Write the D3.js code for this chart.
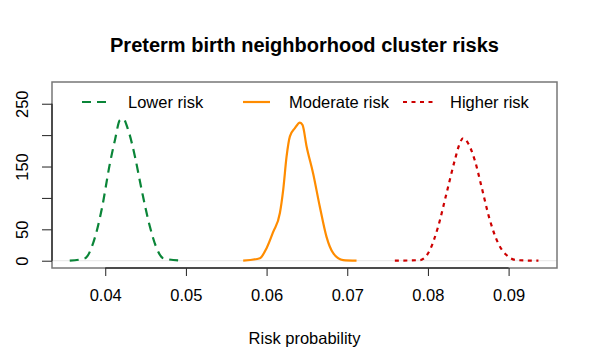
<!DOCTYPE html>
<html>
<head>
<meta charset="utf-8">
<script src="https://cdn.jsdelivr.net/npm/d3@7"></script>
<style>
  body { margin: 0; background: #fff; }
  text { font-family: "Liberation Sans", Arial, Helvetica, sans-serif; }
</style>
</head>
<body>
<svg width="600" height="350"></svg>
<script>
// density curves
var lowerX = [0.0356, 0.0375, 0.0385, 0.03955, 0.04058, 0.0412, 0.04182, 0.04223, 0.04285, 0.04368, 0.04451, 0.04554, 0.04637, 0.04719, 0.0495];
var lowerY = [0, 4, 28, 81, 155, 192, 224, 226, 208, 166, 113, 54, 20, 4, 0];

var moderateX = [0.0571, 0.05917, 0.06, 0.06082, 0.06165, 0.06206, 0.06248, 0.06289, 0.06351, 0.06413, 0.06446, 0.06496, 0.06577, 0.0666, 0.06743, 0.06826, 0.06949, 0.07115];
var moderateY = [0, 4, 20, 46, 76, 113, 166, 198, 211, 220, 216, 182, 139, 86, 38, 12, 1, 0];

var higherX = [0.0759, 0.079, 0.08024, 0.08126, 0.0823, 0.08333, 0.08395, 0.08436, 0.08498, 0.08581, 0.08664, 0.08767, 0.0887, 0.08974, 0.09098, 0.0937];
var higherY = [0, 1, 17, 54, 107, 160, 187, 195, 187, 160, 118, 65, 28, 9, 1, 0];

var seriesNames = ["Lower risk", "Moderate risk", "Higher risk"];
var xTicks = [0.04, 0.05, 0.06, 0.07, 0.08, 0.09];
var yTicks = [0, 50, 100, 150, 200, 250];
var yTickLabels = ["0", "50", "", "150", "", "250"];

var svg = d3.select("svg"),
  mLeft = 52, mRight = 557, mTop = 82, mBottom = 268;

var x = d3.scaleLinear().domain([0.0334, 0.0960]).range([mLeft, mRight]);
var y = d3.scaleLinear().domain([-11.6, 284.6]).range([mBottom, mTop]);

var colors = ["#0a8538", "#ff8c00", "#cd0000"];
var dashes = ["9,6", null, "4,4.5"];

var series = [
  d3.zip(lowerX, lowerY),
  d3.zip(moderateX, moderateY),
  d3.zip(higherX, higherY)
];

// title
svg.append("text")
  .attr("x", (mLeft + mRight) / 2)
  .attr("y", 52)
  .attr("text-anchor", "middle")
  .style("font-size", "20px")
  .style("font-weight", "bold")
  .text("Preterm birth neighborhood cluster risks");

// zero line
svg.append("line")
  .attr("x1", mLeft).attr("x2", mRight)
  .attr("y1", y(0)).attr("y2", y(0))
  .attr("stroke", "#e6e6e6").attr("stroke-width", 1);

// curves
var line = d3.line()
  .x(function (d) { return x(d[0]); })
  .y(function (d) { return y(d[1]); })
  .curve(d3.curveMonotoneX);

svg.selectAll("path.curve")
  .data(series)
  .enter().append("path")
  .attr("class", "curve")
  .attr("d", line)
  .attr("fill", "none")
  .attr("stroke", function (d, i) { return colors[i]; })
  .attr("stroke-width", 2.2)
  .attr("stroke-dasharray", function (d, i) { return dashes[i]; });

// box
svg.append("rect")
  .attr("x", mLeft).attr("y", mTop)
  .attr("width", mRight - mLeft).attr("height", mBottom - mTop)
  .attr("fill", "none")
  .attr("stroke", "#777")
  .attr("stroke-width", 1.5);

// x axis
var xAxis = d3.axisBottom(x)
  .tickValues(xTicks)
  .tickFormat(d3.format(".2f"))
  .tickSizeOuter(0)
  .tickSize(8)
  .tickPadding(13);

var gx = svg.append("g")
  .attr("transform", "translate(0," + mBottom + ")")
  .call(xAxis);
gx.select(".domain").remove();
gx.selectAll("line").attr("stroke", "#222");
gx.selectAll("text").style("font-size", "16.5px").attr("fill", "#000");

// y axis
var yAxis = d3.axisLeft(y)
  .tickValues(yTicks)
  .tickFormat(function (d, i) { return yTickLabels[i]; })
  .tickSizeOuter(0)
  .tickSize(10);

var gy = svg.append("g")
  .attr("transform", "translate(" + mLeft + ",0)")
  .call(yAxis);
gy.select(".domain").remove();
gy.selectAll("line").attr("stroke", "#222");
gy.selectAll("text")
  .style("font-size", "16.5px")
  .attr("fill", "#000")
  .attr("x", null).attr("dy", null)
  .attr("text-anchor", "middle")
  .attr("transform", "translate(-24,0) rotate(-90)");

// axis lines along the ticks (darker than box)
svg.append("line")
  .attr("x1", x(0.04)).attr("x2", x(0.09))
  .attr("y1", mBottom).attr("y2", mBottom)
  .attr("stroke", "#333").attr("stroke-width", 1.5);
svg.append("line")
  .attr("x1", mLeft).attr("x2", mLeft)
  .attr("y1", y(0)).attr("y2", y(250))
  .attr("stroke", "#333").attr("stroke-width", 1.5);

// x label
svg.append("text")
  .attr("x", (mLeft + mRight) / 2)
  .attr("y", 344)
  .attr("text-anchor", "middle")
  .style("font-size", "16.5px")
  .text("Risk probability");

// legend
var legendX = [82, 243, 403];
var legend = svg.selectAll("g.leg")
  .data(seriesNames)
  .enter().append("g")
  .attr("class", "leg")
  .attr("transform", function (d, i) { return "translate(" + legendX[i] + ",102)"; });

legend.append("line")
  .attr("x1", 0).attr("x2", function (d, i) { return i == 2 ? 30 : 27; })
  .attr("y1", 0).attr("y2", 0)
  .attr("stroke", function (d, i) { return colors[i]; })
  .attr("stroke-width", 2.2)
  .attr("stroke-dasharray", function (d, i) { return dashes[i]; });

legend.append("text")
  .attr("x", function (d, i) { return i == 2 ? 47 : 46; })
  .attr("y", 6)
  .style("font-size", "16.5px")
  .text(function (d) { return d; });
</script>
</body>
</html>
